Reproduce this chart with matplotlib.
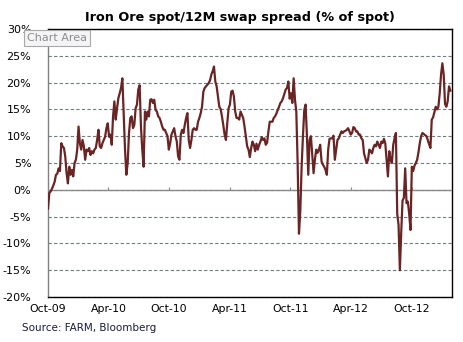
import numpy as np
import pandas as pd
import matplotlib
matplotlib.use("Agg")
import matplotlib.pyplot as plt
import matplotlib.dates as mdates

# Spread diario (cada 4 días) en % del spot
spread = [
    -3.5, -0.6, -0.3, 0.2, 0.8, 1.5, 2.8, 3.0, 4.0, 3.5,
    8.7, 8.1, 7.8, 6.2, 3.1, 1.2, 4.3, 2.8, 3.7, 2.5,
    5.0, 5.6, 7.5, 11.8, 8.7, 7.5, 9.3, 8.1, 5.6, 7.5,
    7.2, 7.8, 6.5, 7.2, 6.8, 7.5, 7.8, 9.3, 11.2, 8.1,
    7.8, 8.7, 9.3, 9.9, 11.5, 12.4, 9.9,
    10.3, 8.4, 13.7, 16.5, 13.1, 15.2, 17.1, 18.0, 19.0, 20.8,
    14.3, 7.5, 2.8, 5.0, 10.6, 13.4, 13.7, 11.5, 12.1, 15.2,
    15.9, 18.7, 19.5, 11.8, 7.5, 4.3, 14.6, 13.1, 14.6, 13.7,
    16.8, 16.9, 16.2, 16.8, 14.9, 14.6, 13.7, 13.4, 12.7, 11.8,
    11.2, 11.2, 10.6, 10.0, 7.5,
    8.7, 10.3, 10.9, 11.5, 10.0, 9.0, 6.2, 5.6, 10.3, 11.2,
    10.6, 12.1, 13.4, 14.3, 9.3, 7.8, 9.3, 11.2, 11.5, 11.2,
    11.2, 12.7, 13.4, 14.3, 15.5, 18.3, 19.0, 19.3, 19.6, 19.9,
    20.4, 21.5, 22.1, 23.0, 20.2, 19.3, 17.4, 15.5, 15.1, 13.7,
    12.1, 10.3, 9.3, 12.4, 15.2,
    15.9, 18.3, 18.5, 17.4, 14.6, 13.4, 13.4, 13.1, 14.6, 14.0,
    13.4, 11.8, 10.0, 8.1, 7.5, 6.1, 7.8, 9.0, 8.4, 7.2,
    8.6, 7.5, 8.4, 9.0, 9.8, 9.3, 9.6, 8.4, 8.8, 10.9,
    12.7, 12.7, 12.7, 13.4, 13.7, 14.2, 14.9, 15.5, 16.2, 16.5,
    17.1, 17.9, 18.7, 19.0, 20.2,
    17.0, 18.0, 16.2, 20.8, 16.8, 14.6, 5.0, -8.2, -4.0, 4.3,
    10.0, 14.9, 15.9, 10.0, 2.8, 9.3, 10.0, 6.5, 3.1, 5.6,
    7.5, 6.9, 7.5, 8.4, 5.3, 4.7, 4.3, 3.7, 2.8, 7.5,
    9.5, 9.6, 9.6, 10.1, 5.6, 7.5, 9.3, 9.6, 10.3, 10.9,
    10.6, 10.9, 11.0, 11.2, 11.5,
    10.9, 10.3, 10.6, 11.7, 11.5, 10.9, 10.9, 10.3, 10.3, 9.6,
    9.3, 6.8, 5.9, 5.0, 5.6, 7.5, 7.2, 6.8, 7.8, 8.4,
    8.1, 9.0, 8.4, 7.8, 9.0, 8.7, 9.5, 8.7, 5.6, 2.5,
    7.2, 5.6, 5.0, 8.4, 9.6, 10.6, -4.5, -6.5, -15.0, -8.0,
    -2.0, -1.5, 4.0, -2.5, -2.2,
    -4.5, -7.5, 4.3, 3.5, 4.5, 5.0, 5.6, 7.0, 8.7, 10.0,
    10.6, 10.4, 10.2, 10.0, 9.3, 8.5, 7.8, 13.1, 13.5, 14.5,
    15.5, 15.0, 15.5, 18.0, 21.5, 23.6, 21.5, 16.0, 15.5, 16.5,
    19.3, 18.5,
]
fechas = pd.date_range("2009-10-01", periods=len(spread), freq="4D")

y_ticks = [-20, -15, -10, -5, 0, 5, 10, 15, 20, 25, 30]
x_ticks = ["2009-10-01", "2010-04-01", "2010-10-01", "2011-04-01",
           "2011-10-01", "2012-04-01", "2012-10-01"]

# Gráfica

fig = plt.figure(figsize=(4.64, 3.42), dpi=100)
ax = fig.add_axes([48/464, 45/342, 404/464, 268/342])

ax.plot(fechas, spread, color='#6b2424', linewidth=1.6, zorder=4)

ax.set_ylim(-20, 30)
ax.set_yticks(y_ticks)
ax.set_yticklabels([f"{v}%" for v in y_ticks])
ax.set_xlim(pd.Timestamp("2009-10-01"), pd.Timestamp("2013-01-30"))
xt = pd.to_datetime(x_ticks)
ax.set_xticks(xt)
ax.xaxis.set_major_formatter(mdates.DateFormatter("%b-%y"))

ax.yaxis.grid(True, color='#6f7f7f', linestyle=(0, (3, 2)), linewidth=0.8)
ax.set_axisbelow(True)
ax.axhline(0, color='#8a8a8a', linewidth=1.0, zorder=3)
# marcas del eje en la línea de cero
ax.vlines(xt, 0, 0.6, color='#8a8a8a', linewidth=0.8, zorder=3)

ax.tick_params(axis='both', length=0, labelsize=8)
ax.tick_params(axis='y', pad=12)
ax.tick_params(axis='x', pad=5, labelsize=7.8)
for s in ax.spines.values():
    s.set_color('black')
    s.set_linewidth(1.0)
ax.spines['left'].set_color('#808080')

fig.text(0.517, 0.948, "Iron Ore spot/12M swap spread (% of spot)",
         ha='center', va='center', fontsize=9.2, fontweight='bold')
fig.text(22/464, 1 - 328/342, "Source: FARM, Bloomberg",
         ha='left', va='center', fontsize=7.5, color='#1a1a40')
fig.text(27/464, 1 - 38/342, "Chart Area", ha='left', va='center',
         fontsize=8, color='#8c8c8c',
         bbox=dict(boxstyle='square,pad=0.25', facecolor='#f4f4f6',
                   edgecolor='#a8a8a8', linewidth=0.8))

fig.savefig("out.png", dpi=100)
